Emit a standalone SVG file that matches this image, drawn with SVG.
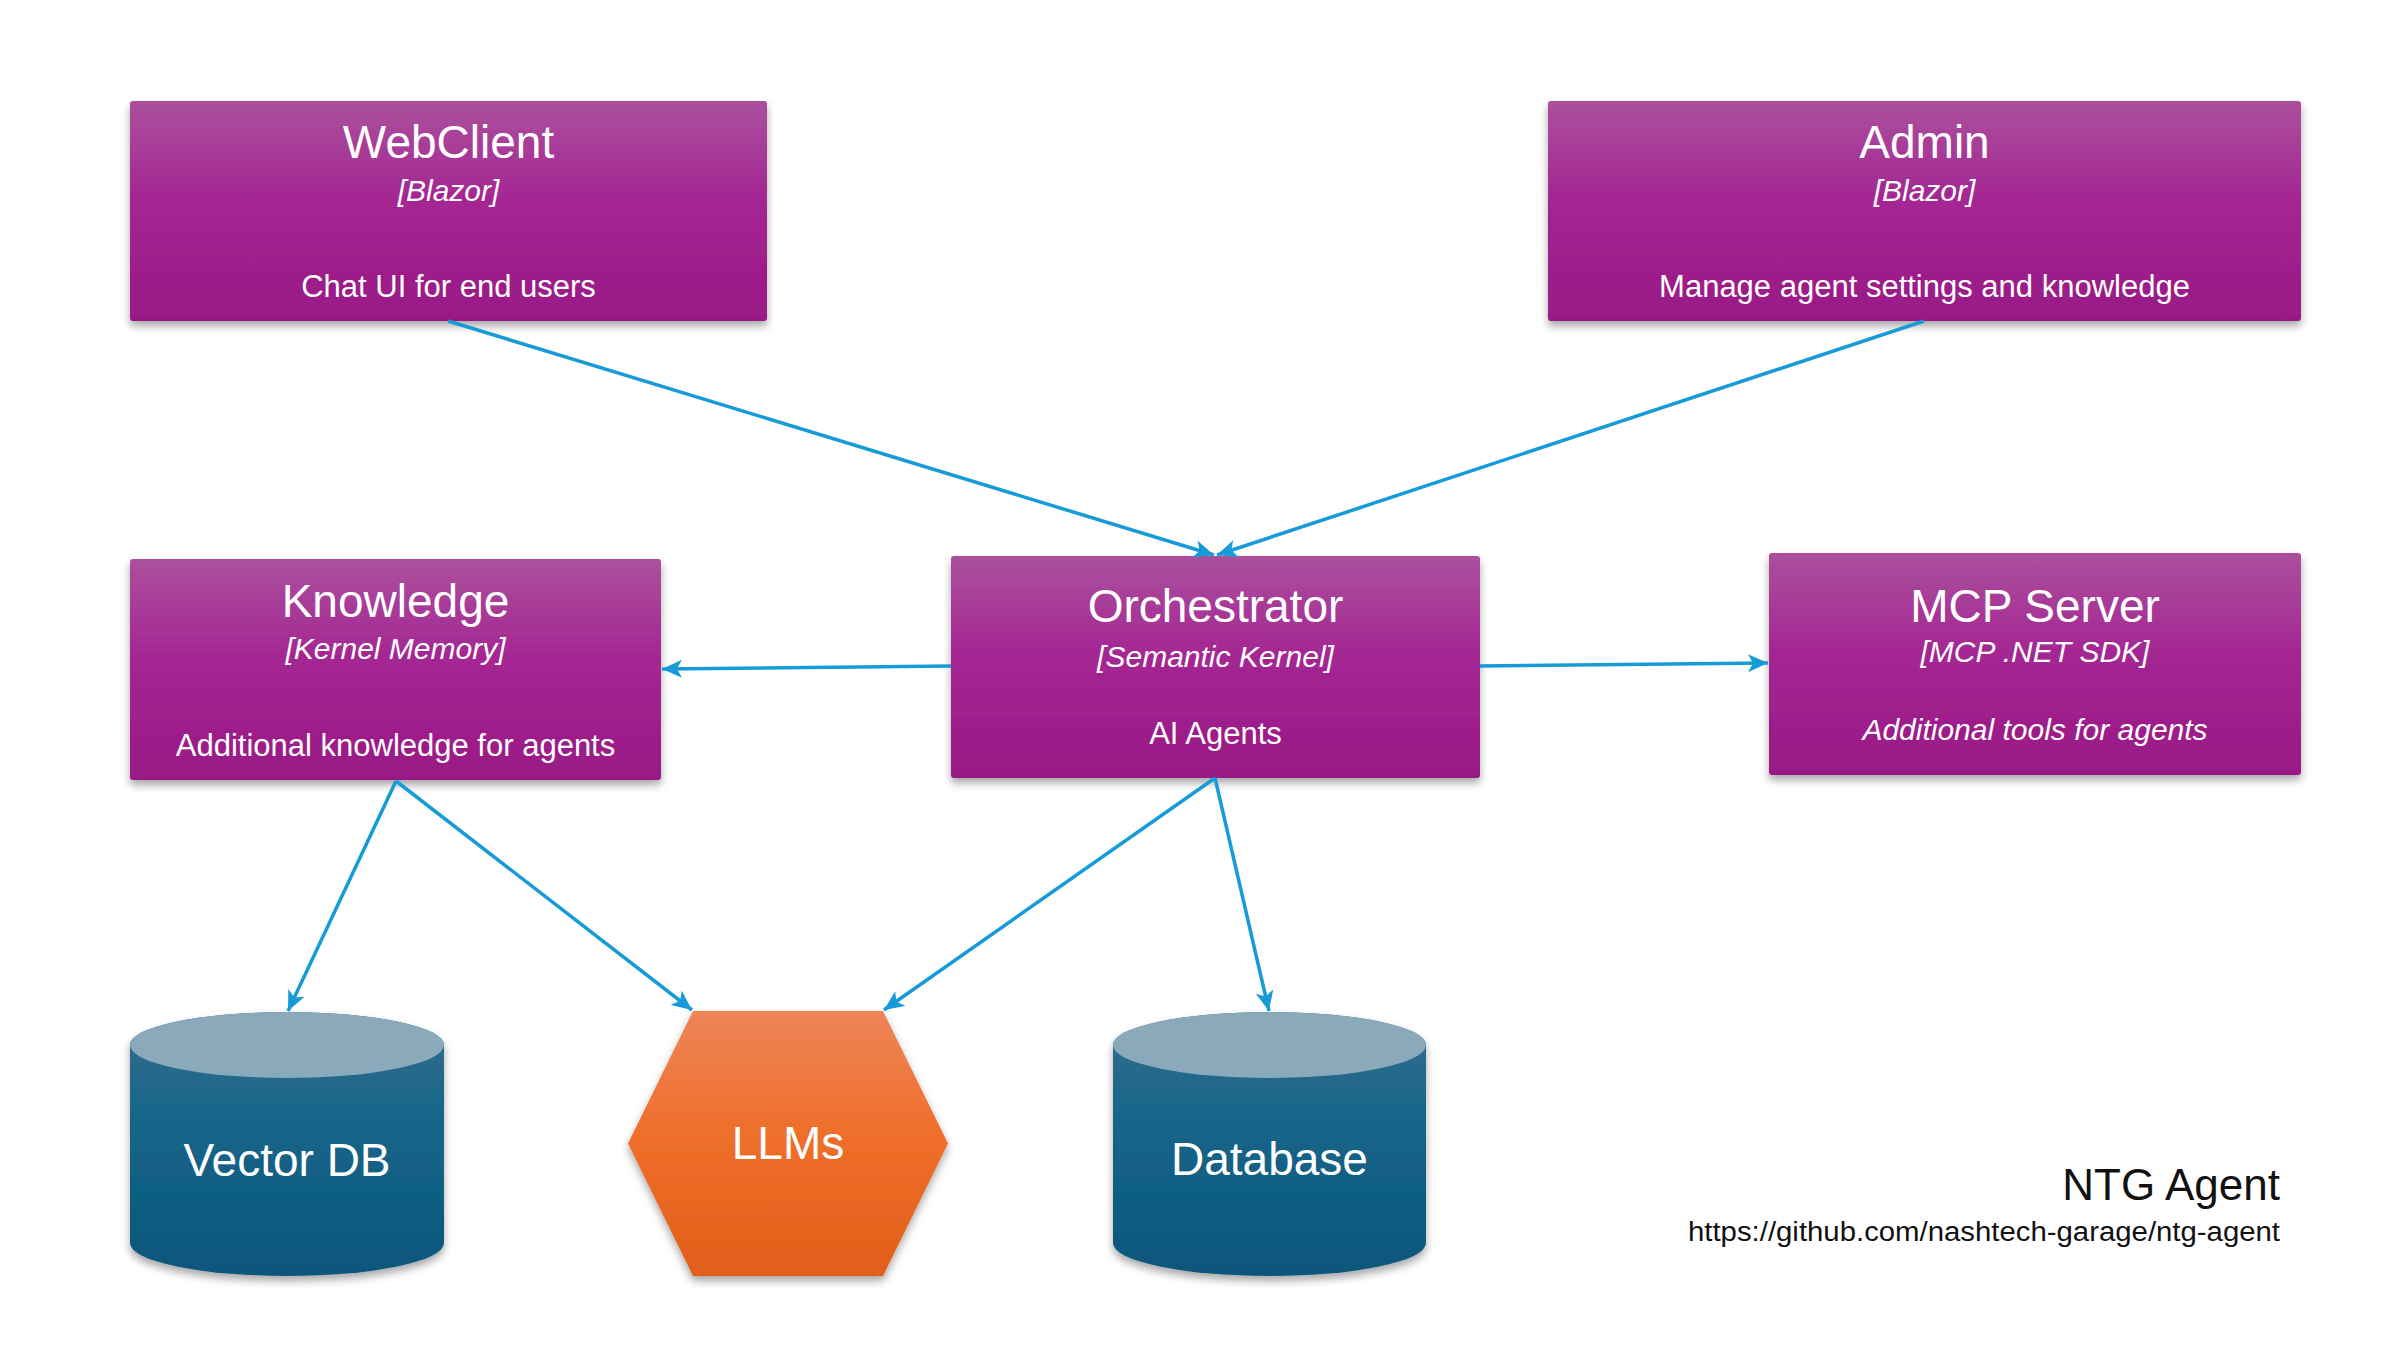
<svg xmlns="http://www.w3.org/2000/svg" width="2405" height="1363" viewBox="0 0 2405 1363">
<defs>
  <linearGradient id="gBox" x1="0" y1="0" x2="0" y2="1">
    <stop offset="0" stop-color="#ab509d"/>
    <stop offset="0.45" stop-color="#a42693"/>
    <stop offset="1" stop-color="#991985"/>
  </linearGradient>
  <linearGradient id="gCyl" x1="0" y1="0" x2="0" y2="1">
    <stop offset="0" stop-color="#3a6d8c"/>
    <stop offset="0.4" stop-color="#16668a"/>
    <stop offset="1" stop-color="#0a567a"/>
  </linearGradient>
  <linearGradient id="gHex" x1="0" y1="0" x2="0" y2="1">
    <stop offset="0" stop-color="#ee8459"/>
    <stop offset="0.45" stop-color="#ef6f2b"/>
    <stop offset="1" stop-color="#e25e19"/>
  </linearGradient>
  <filter id="shadow" x="-10%" y="-10%" width="120%" height="130%">
    <feDropShadow dx="0" dy="5" stdDeviation="4" flood-color="#000" flood-opacity="0.35"/>
  </filter>
  <marker id="arrow" markerUnits="userSpaceOnUse" markerWidth="22" markerHeight="18" viewBox="0 0 22 18" refX="20" refY="9" orient="auto">
    <path d="M0,0 L20,9 L0,18 L5,9 Z" fill="#179bd7"/>
  </marker>
</defs>
<style>
  .box { fill: url(#gBox); filter: url(#shadow); }
  .title { font-family: "Liberation Sans", Arial, sans-serif; font-size: 46px; fill: #ffffff; text-anchor: middle; }
  .sub { font-family: "Liberation Sans", Arial, sans-serif; font-size: 30px; font-style: italic; fill: #ffffff; text-anchor: middle; }
  .desc { font-family: "Liberation Sans", Arial, sans-serif; font-size: 31px; fill: #ffffff; text-anchor: middle; }
  .big { font-family: "Liberation Sans", Arial, sans-serif; font-size: 46px; fill: #ffffff; text-anchor: middle; }
  .conn { stroke: #179bd7; stroke-width: 3.5; fill: none; marker-end: url(#arrow); }
  .cylBody { fill: url(#gCyl); filter: url(#shadow); }
  .cylTop { fill: #8aa9bb; }
</style>
<rect width="2405" height="1363" fill="#ffffff"/>

<g id="webclient">
  <rect class="box" x="130" y="101" width="637" height="220" rx="3"/>
  <text class="title" x="448.5" y="158">WebClient</text>
  <text class="sub" x="448.5" y="201">[Blazor]</text>
  <text class="desc" x="448.5" y="297">Chat UI for end users</text>
</g>

<g id="admin">
  <rect class="box" x="1548" y="101" width="753" height="220" rx="3"/>
  <text class="title" x="1924.5" y="158">Admin</text>
  <text class="sub" x="1924.5" y="201">[Blazor]</text>
  <text class="desc" x="1924.5" y="297">Manage agent settings and knowledge</text>
</g>

<g id="knowledge">
  <rect class="box" x="130" y="559" width="531" height="221" rx="3"/>
  <text class="title" x="395.5" y="617">Knowledge</text>
  <text class="sub" x="395.5" y="659">[Kernel Memory]</text>
  <text class="desc" x="395.5" y="756">Additional knowledge for agents</text>
</g>

<g id="orchestrator">
  <rect class="box" x="951" y="556" width="529" height="222" rx="3"/>
  <text class="title" x="1215.5" y="622">Orchestrator</text>
  <text class="sub" x="1215.5" y="667">[Semantic Kernel]</text>
  <text class="desc" x="1215.5" y="744">AI Agents</text>
</g>

<g id="mcpserver">
  <rect class="box" x="1769" y="553" width="532" height="222" rx="3"/>
  <text class="title" x="2035" y="622">MCP Server</text>
  <text class="sub" x="2035" y="662">[MCP .NET SDK]</text>
  <text class="sub" x="2035" y="740" font-size="31">Additional tools for agents</text>
</g>

<g id="vectordb">
  <path class="cylBody" d="M130,1045 A157,33 0 0 1 444,1045 L444,1243 A157,33 0 0 1 130,1243 Z"/>
  <ellipse class="cylTop" cx="287" cy="1045" rx="157" ry="33"/>
  <text class="big" x="287" y="1176">Vector DB</text>
</g>

<g id="llms">
  <polygon points="693,1011 883,1011 948,1143.5 883,1276 693,1276 628,1143.5" fill="url(#gHex)" filter="url(#shadow)"/>
  <text class="big" x="788" y="1159" font-size="44">LLMs</text>
</g>

<g id="database">
  <path class="cylBody" d="M1113,1045 A156.5,33 0 0 1 1426,1045 L1426,1243 A156.5,33 0 0 1 1113,1243 Z"/>
  <ellipse class="cylTop" cx="1269.5" cy="1045" rx="156.5" ry="33"/>
  <text class="big" x="1269.5" y="1175">Database</text>
</g>

<g id="caption">
  <text x="2280" y="1200" font-family="Liberation Sans, Arial, sans-serif" font-size="44" fill="#111111" text-anchor="end">NTG Agent</text>
  <text x="2280" y="1241" font-family="Liberation Sans, Arial, sans-serif" font-size="27" fill="#111111" text-anchor="end" textLength="592" lengthAdjust="spacingAndGlyphs">https://github.com/nashtech-garage/ntg-agent</text>
</g>

<g id="connectors">
  <line class="conn" x1="448" y1="321" x2="1214" y2="555"/>
  <line class="conn" x1="1924" y1="321" x2="1217" y2="555"/>
  <line class="conn" x1="951" y1="666" x2="662" y2="669"/>
  <line class="conn" x1="1480" y1="666" x2="1768" y2="663"/>
  <line class="conn" x1="396" y1="781" x2="288" y2="1011"/>
  <line class="conn" x1="396" y1="781" x2="692" y2="1010"/>
  <line class="conn" x1="1215" y1="778" x2="884" y2="1010"/>
  <line class="conn" x1="1215" y1="778" x2="1269" y2="1011"/>
</g>
</svg>
